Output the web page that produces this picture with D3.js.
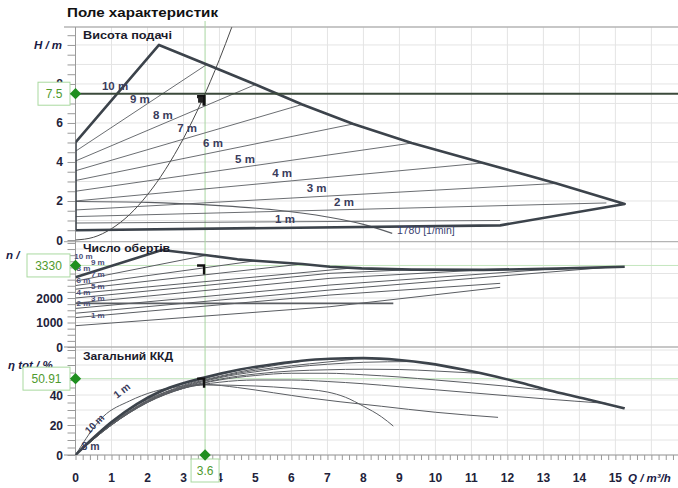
<!DOCTYPE html>
<html><head><meta charset="utf-8">
<script src="https://cdn.jsdelivr.net/npm/d3@7/dist/d3.min.js"></script>
<style>
body{margin:0;background:#fff;}
text{font-family:'Liberation Sans',Arial,sans-serif;}
</style>
</head><body>
<svg id="c" width="678" height="488"></svg>
<script>
// ---------------- DATA ----------------
const qTicks = [0,1,2,3,4,5,6,7,8,9,10,11,12,13,14,15];
const gridQ = [1,2,3,4,5,6,7,8,9,10,11,12,13,14,15,16];
const hTicks = [0,2,4,6,8];
const hGrid = [1,2,3,4,5,6,7,8,9,10];
const nTicks = [0,1000,2000];
const nGrid = [1000,2000,3000,4000];
const etaTicks = [0,20,40];
const etaGrid = [10,20,30,40,50,60,70];

const opQ = 3.6, opH = 7.5, opN = 3330, opEta = 50.91;

// H panel: envelope (max curve + min line)
const envHQ = [0,0,2.32,3.65,5.0,6.3,7.72,9.34,11.33,13.37,15.26,11.8,0];
const envHV = [0.5,5.0,10.0,9.0,7.97,6.95,5.95,4.97,3.95,2.9,1.85,0.75,0.5];
// setpoint lines 9 m .. 2 m
const setNames = ['9 m','8 m','7 m','6 m','5 m','4 m','3 m','2 m'];
const setH0   = [4.55,4.05,3.55,3.05,2.5,2.0,1.54,1.2];
const setQEnd = [3.65,5.0,6.3,7.72,9.34,11.33,13.37,14.75];
const setHEnd = [9.0,7.97,6.95,5.95,4.97,3.95,2.9,1.9];
const extraHQ = [0,11.8];
const extraHV = [0.87,1.0];
// min speed curve 1780 1/min
const minHQ = [0,2,4,5.5,7,8,8.8];
const minHV = [1.97,1.93,1.76,1.55,1.18,0.8,0.34];
// system curve
const sysQ = [0,0.5,1,1.5,2,2.5,3,3.5,4,4.34,4.5];
const sysH = [0,0.14,0.58,1.3,2.32,3.62,5.21,7.09,9.26,10.9,11.7];
// H labels
const hLabNames = ['10 m','9 m','8 m','7 m','6 m','5 m','4 m','3 m','2 m','1 m'];
const hLabQ = [1.1,1.79,2.43,3.1,3.82,4.71,5.74,6.7,7.46,5.82];
const hLabH = [7.91,7.21,6.41,5.76,4.96,4.15,3.45,2.65,1.96,1.08];

// n panel
const envNQ = [0,2.4,3.65,4.5,5.0,6.3,7.07,7.95,9.34,11.33,13.37,15.26];
const envNV = [2845,3960,3750,3580,3520,3390,3280,3210,3160,3150,3200,3280];
const nLineQ = [[0,3.65],[0,5.0],[0,6.3],[0,7.72],[0,7.07,9.34],[0,7.07,11.33],[0,7.07,13.37],[0,7.07,14.75],[0,8.83],[0,7.07,11.8],[0,7.07,11.8]];
const nLineV = [[2690,3750],[2510,3520],[2360,3390],[2180,3230],[2000,3008,3160],[1790,2804,3150],[1575,2531,3200],[1380,2327,3250],[1780,1780],[870,1645,2436],[1200,2122,2600]];
const nLabA = ['10 m','8 m','6 m','4 m','2 m'];
const nLabAV = [3700,3220,2740,2260,1780];
const nLabB = ['9 m','7 m','5 m','3 m','1 m'];
const nLabBV = [3460,2980,2500,2020,1300];

// eta panel
const etaEnvQ = [0,0.5,1,1.7,2.32,2.62,3.55,4.57,5.5,6.5,7.07,8,9,9.8,10.77,11.7,12.63,13.5,14.1,15.26];
const etaEnvV = [0,11.5,22,34,42,45,51.5,57,60.5,63.3,64.2,64.6,63.3,61.1,57,52.2,46.5,41.1,37.8,31.1];
const etaLineQ = [
  [0,1,2,3,3.65],
  [0,1,2,3,4,5],
  [0,1,2,3,4,5,6.3],
  [0,1,2,3,4,5,6,7,7.72],
  [0,1,2,3,4,5,6,7,8,9.34],
  [0,1,2,3,4,5,6,7,8,9,10,11.33],
  [0,1,2,3,4,5,6,7,8,9,10,11,12,13.37],
  [0,1,2,3,4,5,6,7,8,9,10,11,12,13,14.75],
  [0,1,2,3,3.64,5,6,7,7.5,8,8.5,8.83],
  [0,0.77,1.5,2.16,3,3.6,4.5,5.5,6.5,7.35,8.5,10,11.74]
];
const etaLineV = [
  [0,21,37.5,47.5,52],
  [0,20.5,36.5,46.5,53.5,59],
  [0,20.5,36,46,52.5,57.5,62.5],
  [0,20,35.5,45.5,52,56.5,59.5,62,63.8],
  [0,20,35,45,51.5,55.5,58.5,60.5,61.8,62.3],
  [0,20,35,44.5,50.5,54,56,56.8,57.2,57,56,54.3],
  [0,20.5,35.5,44.5,50,53,54.5,54.5,53.5,52,50,48,45.8,42.3],
  [0,21,36,44.5,48.5,50,50,49,47.5,45.5,43.5,41.5,39.5,37.5,34.4],
  [0,22,37,45,46.7,46,44.5,42,38.5,32.5,25.5,19.3],
  [0,25.6,36,42.2,46,47,45,41.5,38,35.5,32.5,28.5,25.1]
];

// ---------------- DRAW ----------------
const svg = d3.select('#c');
const x  = d3.scaleLinear().domain([0,16.74]).range([75.5,678]);
const yH = d3.scaleLinear().domain([0,10.92]).range([240,27]);
const yN = d3.scaleLinear().domain([0,4300]).range([347,241.7]);
const yE = d3.scaleLinear().domain([0,72]).range([455,347]);

const defs = svg.append('defs');
function clip(id,y0,y1){
  defs.append('clipPath').attr('id',id).append('rect')
    .attr('x',x(0)).attr('y',y0).attr('width',678-x(0)).attr('height',y1-y0);
}
clip('cH', yH(10.92), yH(0)+1);
clip('cN', yN(4300), yN(0));
clip('cE', yE(72), yE(0));

const gridCol = '#e4e4e4';
const g = svg.append('g');
g.selectAll('line.gv').data(gridQ).join('line')
  .attr('x1',d=>x(d)).attr('x2',d=>x(d)).attr('y1',yH(10.92)).attr('y2',yE(0))
  .attr('stroke',gridCol).attr('stroke-width',1);
g.selectAll('line.gh').data(hGrid).join('line')
  .attr('x1',x(0)).attr('x2',678).attr('y1',d=>yH(d)).attr('y2',d=>yH(d))
  .attr('stroke',gridCol);
g.selectAll('line.gn').data(nGrid).join('line')
  .attr('x1',x(0)).attr('x2',678).attr('y1',d=>yN(d)).attr('y2',d=>yN(d))
  .attr('stroke',gridCol);
g.selectAll('line.ge').data(etaGrid).join('line')
  .attr('x1',x(0)).attr('x2',678).attr('y1',d=>yE(d)).attr('y2',d=>yE(d))
  .attr('stroke',gridCol);

// panel separators
[yH(10.92), yN(4300), yE(72), yE(0)].forEach(v=>{
  svg.append('line').attr('x1',64).attr('x2',678).attr('y1',v).attr('y2',v)
    .attr('stroke','#b4b4b4').attr('stroke-width',1.3);
});
svg.append('line').attr('x1',x(0)).attr('x2',x(0)).attr('y1',yH(10.92)).attr('y2',yE(0))
  .attr('stroke','#9a9a9a');

// left axis ticks via d3 axes
function leftTicks(scale, vals){
  const a = svg.append('g').attr('transform',`translate(${x(0)},0)`)
    .call(d3.axisLeft(scale).tickValues(vals).tickSize(8).tickFormat(''));
  a.select('.domain').remove();
  a.selectAll('line').attr('stroke','#9a9a9a');
}
leftTicks(yH, d3.range(0,10.9,0.5));
leftTicks(yN, d3.range(0,4300,250));
leftTicks(yE, d3.range(0,72,5));
const ba = svg.append('g').attr('transform',`translate(0,${yE(0)})`)
  .call(d3.axisBottom(x).tickValues(d3.range(0,16.7,0.2)).tickSize(5).tickFormat(''));
ba.select('.domain').remove();
ba.selectAll('line').attr('stroke','#9a9a9a');

// guide lines for operating point
svg.append('line').attr('x1',x(opQ)).attr('x2',x(opQ)).attr('y1',yH(10.92)-6).attr('y2',yE(0))
  .attr('stroke','#a9d6a2').attr('stroke-width',1);
svg.append('line').attr('x1',x(0)).attr('x2',678).attr('y1',yN(opN)).attr('y2',yN(opN))
  .attr('stroke','#c4e6bf').attr('stroke-width',1);
svg.append('line').attr('x1',x(0)).attr('x2',678).attr('y1',yE(opEta)).attr('y2',yE(opEta))
  .attr('stroke','#c4e6bf').attr('stroke-width',1);

const thin = '#5a5d62', thick = '#3c434b';
const toPts = (qs,vs)=>qs.map((q,i)=>[q,vs[i]]);

// ---- H panel ----
const gH = svg.append('g').attr('clip-path','url(#cH)');
const lineH = d3.line().x(d=>x(d[0])).y(d=>yH(d[1]));
const lineHs = d3.line().x(d=>x(d[0])).y(d=>yH(d[1])).curve(d3.curveMonotoneX);
setH0.forEach((h,i)=>{
  gH.append('path').attr('d',lineH([[0,h],[setQEnd[i],setHEnd[i]]]))
    .attr('fill','none').attr('stroke',thin).attr('stroke-width',0.9);
});
gH.append('path').attr('d',lineH(toPts(extraHQ,extraHV))).attr('fill','none').attr('stroke',thin).attr('stroke-width',0.9);
gH.append('path').attr('d',lineHs(toPts(minHQ,minHV))).attr('fill','none').attr('stroke',thin).attr('stroke-width',1.1);
gH.append('path').attr('d',lineHs(toPts(sysQ,sysH))).attr('fill','none').attr('stroke','#4a4a4a').attr('stroke-width',1);
gH.append('path').attr('d',lineH(toPts(envHQ,envHV))).attr('fill','none').attr('stroke',thick).attr('stroke-width',2.6).attr('stroke-linejoin','round');

const labCol = '#3a3c5c';
svg.selectAll('text.hl').data(hLabNames).join('text')
  .attr('x',(d,i)=>x(hLabQ[i])).attr('y',(d,i)=>yH(hLabH[i])+4)
  .attr('text-anchor','middle').attr('font-size',11.5).attr('font-weight','bold')
  .attr('fill',labCol).text(d=>d);
svg.append('text').attr('x',x(8.93)).attr('y',yH(0.51)+4).attr('font-size',10.5)
  .attr('fill','#3b4270').text('1780 [1/min]');

// operating horizontal line
svg.append('line').attr('x1',x(0)).attr('x2',678).attr('y1',yH(opH)).attr('y2',yH(opH))
  .attr('stroke','#3b4a3b').attr('stroke-width',2);

// ---- n panel ----
const gN = svg.append('g').attr('clip-path','url(#cN)');
const lineN = d3.line().x(d=>x(d[0])).y(d=>yN(d[1]));
nLineQ.forEach((qs,i)=>{
  gN.append('path').attr('d',lineN(toPts(qs,nLineV[i]))).attr('fill','none')
    .attr('stroke',thin).attr('stroke-width', i===8?1.6:1);
});
gN.append('path').attr('d',lineN(toPts(envNQ,envNV))).attr('fill','none').attr('stroke',thick).attr('stroke-width',2.6).attr('stroke-linejoin','round');
svg.selectAll('text.nla').data(nLabA).join('text')
  .attr('x',x(0.22)).attr('y',(d,i)=>yN(nLabAV[i])+3)
  .attr('text-anchor','middle').attr('font-size',8).attr('font-weight','bold')
  .attr('fill','#4a4d78').text(d=>d);
svg.selectAll('text.nlb').data(nLabB).join('text')
  .attr('x',x(0.62)).attr('y',(d,i)=>yN(nLabBV[i])+3)
  .attr('text-anchor','middle').attr('font-size',8).attr('font-weight','bold')
  .attr('fill','#4a4d78').text(d=>d);

// ---- eta panel ----
const gE = svg.append('g').attr('clip-path','url(#cE)');
const lineE = d3.line().x(d=>x(d[0])).y(d=>yE(d[1])).curve(d3.curveMonotoneX);
etaLineQ.forEach((qs,i)=>{
  gE.append('path').attr('d',lineE(toPts(qs,etaLineV[i]))).attr('fill','none')
    .attr('stroke',thin).attr('stroke-width',1);
});
gE.append('path').attr('d',lineE(toPts(etaEnvQ,etaEnvV))).attr('fill','none').attr('stroke',thick).attr('stroke-width',2.6);
svg.append('text').attr('transform',`translate(${x(1.35)},${yE(41)}) rotate(-38)`)
  .attr('text-anchor','middle').attr('font-size',10.5).attr('font-weight','bold').attr('fill',labCol).text('1 m');
svg.append('text').attr('transform',`translate(${x(0.6)},${yE(19)}) rotate(-45)`)
  .attr('text-anchor','middle').attr('font-size',10).attr('font-weight','bold').attr('fill',labCol).text('10 m');
svg.append('text').attr('x',x(0.42)).attr('y',yE(6)+4)
  .attr('text-anchor','middle').attr('font-size',10.5).attr('font-weight','bold').attr('fill',labCol).text('8 m');

// operating markers (black glyphs)
function glyph(cy, w){
  svg.append('path').attr('d',`M${x(opQ)-8},${cy} H${x(opQ)-1} V${cy+9}`)
    .attr('fill','none').attr('stroke','#111').attr('stroke-width',w);
}
glyph(yH(opH)+3, 3.2);
svg.append('rect').attr('x',x(opQ)-7).attr('y',yH(opH)+3).attr('width',5).attr('height',6).attr('fill','#222');
glyph(yN(opN), 2.4);
glyph(yE(opEta), 2.4);

// panel titles
const titleCol = '#1b1b2b';
svg.append('text').attr('x',83).attr('y',39).attr('font-size',11.5).attr('font-weight','bold').attr('fill',titleCol)
  .attr('textLength',89).attr('lengthAdjust','spacingAndGlyphs').text('Висота подачі');
svg.append('text').attr('x',83).attr('y',252).attr('font-size',11.5).attr('font-weight','bold').attr('fill',titleCol)
  .attr('textLength',87).attr('lengthAdjust','spacingAndGlyphs').text('Число обертів');
svg.append('text').attr('x',83).attr('y',360).attr('font-size',11.5).attr('font-weight','bold').attr('fill',titleCol)
  .attr('textLength',90).attr('lengthAdjust','spacingAndGlyphs').text('Загальний ККД');
svg.append('text').attr('x',67).attr('y',17).attr('font-size',13.5).attr('font-weight','bold')
  .attr('fill','#111').attr('textLength',151).attr('lengthAdjust','spacingAndGlyphs').text('Поле характеристик');

// tick labels
const tickCol = '#22223a';
function leftLabels(vals, scale){
  svg.selectAll(null).data(vals).join('text')
    .attr('x',63).attr('y',d=>scale(d)+4.5).attr('text-anchor','end')
    .attr('font-size',12).attr('font-weight','bold').attr('fill',tickCol).text(d=>d);
}
leftLabels(hTicks, yH);
leftLabels(nTicks, yN);
leftLabels(etaTicks, yE);
svg.selectAll(null).data(qTicks).join('text')
  .attr('x',d=>x(d)).attr('y',482).attr('text-anchor','middle')
  .attr('font-size',12).attr('font-weight','bold').attr('fill',tickCol).text(d=>d);

svg.append('text').attr('x',62).attr('y',yH(10)+4.5).attr('text-anchor','end')
  .attr('font-size',11.5).attr('font-weight','bold').attr('font-style','italic').attr('fill','#1a1a44').text('H / m');
svg.append('text').attr('x',6).attr('y',259)
  .attr('font-size',11.5).attr('font-weight','bold').attr('font-style','italic').attr('fill','#1a1a44').text('n /');
svg.append('text').attr('x',8).attr('y',yE(60)+4)
  .attr('font-size',11.5).attr('font-weight','bold').attr('font-style','italic').attr('fill','#1a1a44').text('η tot / %');
svg.append('text').attr('x',628).attr('y',482)
  .attr('font-size',11.5).attr('font-weight','bold').attr('font-style','italic').attr('fill','#1a1a44').text('Q / m³/h');

// value boxes + diamonds
const green = '#1f8f1f', boxTxt = '#4f9a2e', boxLine = '#a9d9a0';
function box(cx, cy, w, label, anchorRight){
  const bx = anchorRight ? cx - w : cx - w/2;
  svg.append('rect').attr('x',bx).attr('y',cy-11.5).attr('width',w).attr('height',23)
    .attr('fill','#fff').attr('stroke',boxLine).attr('stroke-width',1);
  svg.append('text').attr('x',bx+w/2).attr('y',cy+4.5).attr('text-anchor','middle')
    .attr('font-size',12).attr('fill',boxTxt).text(label);
}
box(70, yH(opH), 32, String(opH), true);
box(70, yN(opN), 43, String(opN), true);
box(70, yE(opEta), 47, String(opEta), true);
box(x(opQ), 470.5, 28, String(opQ), false);
const dia = d3.symbol(d3.symbolSquare, 64);
[[x(0),yH(opH)],[x(0),yN(opN)],[x(0),yE(opEta)],[x(opQ),yE(0)]].forEach(p=>{
  svg.append('path').attr('d',dia()).attr('transform',`translate(${p[0]},${p[1]}) rotate(45)`).attr('fill',green);
});
</script>
</body></html>
